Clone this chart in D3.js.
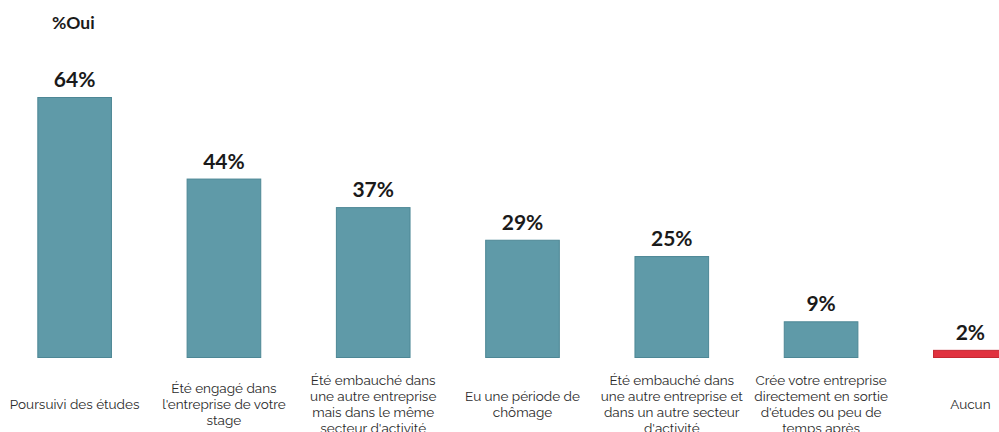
<!DOCTYPE html>
<html>
<head>
<meta charset="utf-8">
<script src="https://cdn.jsdelivr.net/npm/d3@7"></script>
<style>
  html, body { margin: 0; padding: 0; background: #fff; overflow: hidden; }
  svg { display: block; }
</style>
</head>
<body>
<svg id="chart" width="999" height="432"></svg>
<script>
// Situations after graduation, share answering "oui"
const categories = [
  "Poursuivi des études",
  "Été engagé dans\nl'entreprise de votre\nstage",
  "Été embauché dans\nune autre entreprise\nmais dans le même\nsecteur d'activité",
  "Eu une période de\nchômage",
  "Été embauché dans\nune autre entreprise et\ndans un autre secteur\nd'activité",
  "Crée votre entreprise\ndirectement en sortie\nd'études ou peu de\ntemps après",
  "Aucun"
];
const values = [64, 44, 37, 29, 25, 9, 2];
const highlighted = ["Aucun"];
const title = "%Oui";

const svg = d3.select("#chart");
const baseY = 358;

const x = d3.scaleBand()
  .domain(categories)
  .range([0, 1045])
  .paddingInner(0.5)
  .paddingOuter(0.25);

const y = d3.scaleLinear()
  .domain([0, 64])
  .range([baseY, 97]);

const fontBold = "Lato, 'Open Sans', sans-serif";
const fontLabel = "Raleway, Lato, 'Open Sans', sans-serif";

svg.append("text")
  .attr("x", 52)
  .attr("y", 29)
  .attr("font-family", fontBold)
  .attr("font-weight", 700)
  .attr("font-size", 17.5)
  .attr("fill", "#1a1a1a")
  .text(title);

const data = categories.map((c, i) => ({ cat: c, val: values[i] }));

svg.selectAll("rect.bar")
  .data(data)
  .join("rect")
  .attr("class", "bar")
  .attr("x", d => x(d.cat) + 0.5)
  .attr("y", d => y(d.val) + 0.5)
  .attr("width", x.bandwidth() - 1)
  .attr("height", d => baseY - y(d.val) - 1)
  .attr("fill", d => highlighted.includes(d.cat) ? "#e0323f" : "#5f9aa8")
  .attr("stroke", d => highlighted.includes(d.cat) ? "#c42832" : "#4d8795")
  .attr("stroke-width", 1);

svg.selectAll("text.value")
  .data(data)
  .join("text")
  .attr("class", "value")
  .attr("x", d => x(d.cat) + x.bandwidth() / 2)
  .attr("y", d => y(d.val) - 10)
  .attr("text-anchor", "middle")
  .attr("font-family", fontBold)
  .attr("font-weight", 700)
  .attr("font-size", 21)
  .attr("fill", "#1a1a1a")
  .text(d => d.val + "%");

const lineH = 16.2;
const centerY = 409;
svg.selectAll("text.cat")
  .data(data)
  .join("text")
  .attr("class", "cat")
  .attr("text-anchor", "middle")
  .attr("font-family", fontLabel)
  .attr("font-size", 13.5)
  .attr("fill", "#2b2b2b")
  .each(function(d) {
    const lines = d.cat.split("\n");
    const cx = x(d.cat) + x.bandwidth() / 2;
    const top = centerY - (lines.length - 1) * lineH / 2;
    d3.select(this).selectAll("tspan")
      .data(lines)
      .join("tspan")
      .attr("x", cx)
      .attr("y", (l, i) => top + i * lineH)
      .text(l => l);
  });
</script>
</body>
</html>
